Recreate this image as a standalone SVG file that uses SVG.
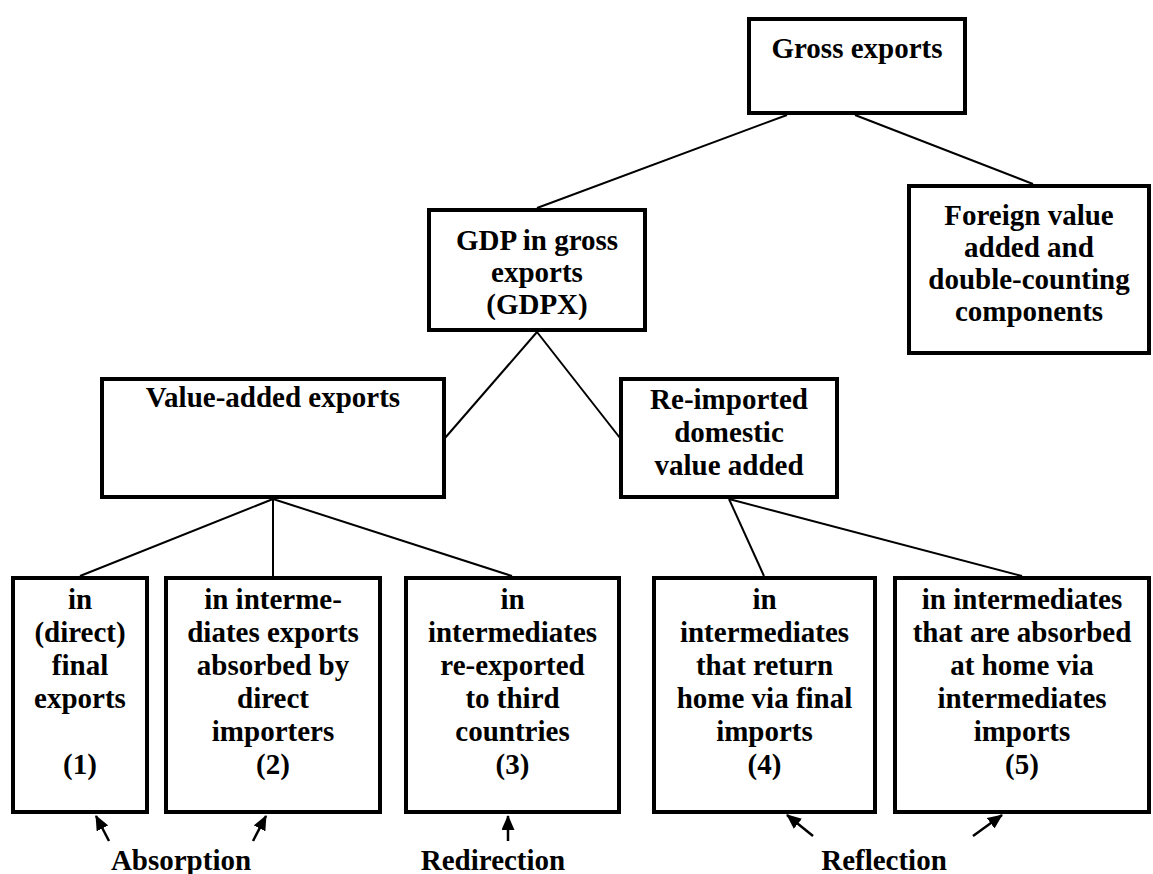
<svg xmlns="http://www.w3.org/2000/svg" width="1153" height="874" viewBox="0 0 1153 874">
<style>
.box{fill:#fff;stroke:#000;stroke-width:4}
text{font-family:'Liberation Serif','Times New Roman',serif;font-weight:bold;font-size:29px;fill:#000;text-anchor:middle}
.c{stroke:#000;stroke-width:2;fill:none}
.a{stroke:#000;stroke-width:2.5;fill:none;marker-end:url(#ah)}
</style>
<defs>
<marker id="ah" markerUnits="userSpaceOnUse" markerWidth="15" markerHeight="13" refX="14" refY="6.5" orient="auto">
<path d="M0,0 L15,6.5 L0,13 Z" fill="#000"/>
</marker>
</defs>
<rect width="1153" height="874" fill="#fff"/>
<g id="connectors">
<line class="c" x1="787" y1="115" x2="537" y2="208"/>
<line class="c" x1="855" y1="115" x2="1033" y2="184"/>
<line class="c" x1="537" y1="332" x2="445" y2="438"/>
<line class="c" x1="537" y1="332" x2="620" y2="438"/>
<line class="c" x1="273" y1="499" x2="80" y2="576"/>
<line class="c" x1="273" y1="499" x2="273" y2="576"/>
<line class="c" x1="273" y1="499" x2="512" y2="576"/>
<line class="c" x1="729" y1="499" x2="764" y2="576"/>
<line class="c" x1="729" y1="499" x2="1022" y2="576"/>
<line class="a" x1="109" y1="841" x2="96" y2="816"/>
<line class="a" x1="253" y1="841" x2="266" y2="816"/>
<line class="a" x1="508" y1="841" x2="508" y2="816"/>
<line class="a" x1="813" y1="836" x2="787" y2="815"/>
<line class="a" x1="973" y1="836" x2="1002" y2="815"/>
</g>
<g id="gross">
<rect class="box" x="749" y="19" width="216" height="94"/>
<text x="857" y="58">Gross exports</text>
</g>
<g id="foreign">
<rect class="box" x="909" y="186" width="240" height="167"/>
<text x="1029" y="225">Foreign value</text>
<text x="1029" y="257">added and</text>
<text x="1029" y="289">double-counting</text>
<text x="1029" y="321">components</text>
</g>
<g id="gdpx">
<rect class="box" x="429" y="210" width="216" height="120"/>
<text x="537" y="250">GDP in gross</text>
<text x="537" y="282">exports</text>
<text x="537" y="314">(GDPX)</text>
</g>
<g id="vax">
<rect class="box" x="102" y="379" width="342" height="118"/>
<text x="273" y="407">Value-added exports</text>
</g>
<g id="reimported">
<rect class="box" x="621" y="379" width="216" height="118"/>
<text x="729" y="409">Re-imported</text>
<text x="729" y="442">domestic</text>
<text x="729" y="475">value added</text>
</g>
<g id="b1">
<rect class="box" x="13" y="578" width="134" height="234"/>
<text x="80" y="609">in</text>
<text x="80" y="642">(direct)</text>
<text x="80" y="675">final</text>
<text x="80" y="708">exports</text>
<text x="80" y="774">(1)</text>
</g>
<g id="b2">
<rect class="box" x="166" y="578" width="214" height="234"/>
<text x="273" y="609">in interme-</text>
<text x="273" y="642">diates exports</text>
<text x="273" y="675">absorbed by</text>
<text x="273" y="708">direct</text>
<text x="273" y="741">importers</text>
<text x="273" y="774">(2)</text>
</g>
<g id="b3">
<rect class="box" x="406" y="578" width="213" height="234"/>
<text x="512.5" y="609">in</text>
<text x="512.5" y="642">intermediates</text>
<text x="512.5" y="675">re-exported</text>
<text x="512.5" y="708">to third</text>
<text x="512.5" y="741">countries</text>
<text x="512.5" y="774">(3)</text>
</g>
<g id="b4">
<rect class="box" x="654" y="578" width="221" height="234"/>
<text x="764.5" y="609">in</text>
<text x="764.5" y="642">intermediates</text>
<text x="764.5" y="675">that return</text>
<text x="764.5" y="708">home via final</text>
<text x="764.5" y="741">imports</text>
<text x="764.5" y="774">(4)</text>
</g>
<g id="b5">
<rect class="box" x="895" y="578" width="254" height="234"/>
<text x="1022" y="609">in intermediates</text>
<text x="1022" y="642">that are absorbed</text>
<text x="1022" y="675">at home via</text>
<text x="1022" y="708">intermediates</text>
<text x="1022" y="741">imports</text>
<text x="1022" y="774">(5)</text>
</g>
<g id="labels">
<text x="181" y="870">Absorption</text>
<text x="493" y="870">Redirection</text>
<text x="884" y="870">Reflection</text>
</g>
</svg>
